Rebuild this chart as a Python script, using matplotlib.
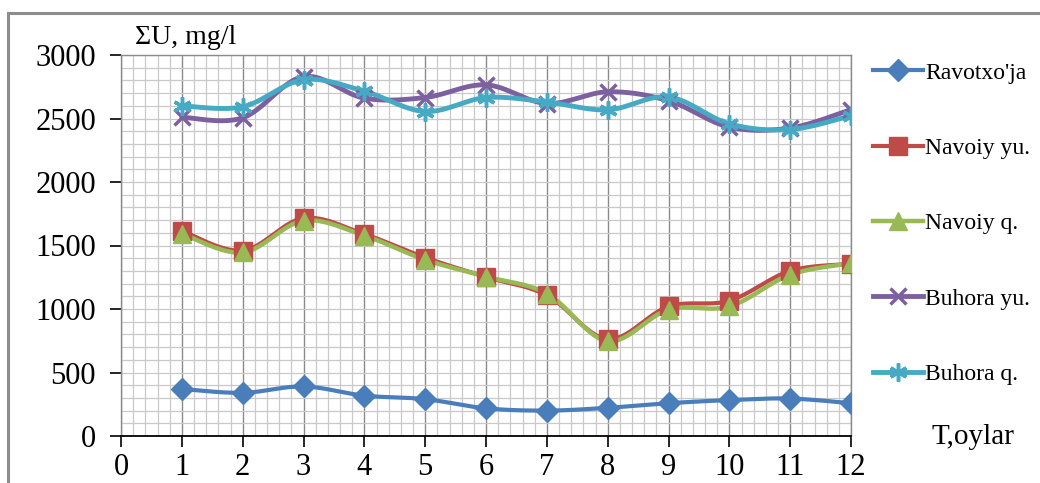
import numpy as np
import matplotlib
matplotlib.use("Agg")
import matplotlib.pyplot as plt
from matplotlib.patches import Rectangle
from matplotlib.ticker import MultipleLocator

months = [1, 2, 3, 4, 5, 6, 7, 8, 9, 10, 11, 12]
ravotxoja = [370, 340, 390, 318, 290, 218, 200, 222, 258, 283, 295, 258]
navoiy_yu = [1615, 1460, 1715, 1590, 1405, 1252, 1108, 763, 1020, 1065, 1300, 1355]
navoiy_q = [1593, 1445, 1695, 1578, 1388, 1255, 1122, 747, 995, 1020, 1270, 1360]
buhora_yu = [2510, 2505, 2830, 2660, 2665, 2765, 2618, 2710, 2640, 2432, 2425, 2570]
buhora_q = [2600, 2592, 2805, 2715, 2555, 2665, 2630, 2568, 2670, 2458, 2413, 2522]

labels = ["Ravotxo'ja", "Navoiy yu.", "Navoiy q.", "Buhora yu.", "Buhora q."]
colors = ["#4A7EBB", "#BE4B48", "#98B954", "#7D60A0", "#46AAC5"]
markers = ["D", "s", "^", "x", (6, 2, 0)]
msizes = [11.5, 12.5, 12.5, 12, 13]
lws = [3, 3, 3.2, 3.5, 3.5]
series = [ravotxoja, navoiy_yu, navoiy_q, buhora_yu, buhora_q]

plt.rcParams['font.family'] = ['Liberation Serif', 'DejaVu Serif']


def smooth(x, y, n=30):
    x = np.asarray(x, float)
    y = np.asarray(y, float)
    xs, ys = [], []
    m = len(x)
    for i in range(m - 1):
        p0 = np.array([x[i], y[i]])
        p3 = np.array([x[i + 1], y[i + 1]])
        pm = np.array([x[i - 1], y[i - 1]]) if i > 0 else p0
        pp = np.array([x[i + 2], y[i + 2]]) if i + 2 < m else p3
        c1 = p0 + (p3 - pm) / 6.0
        c2 = p3 - (pp - p0) / 6.0
        t = np.linspace(0, 1, n)[:, None]
        pts = (1 - t) ** 3 * p0 + 3 * (1 - t) ** 2 * t * c1 + 3 * (1 - t) * t ** 2 * c2 + t ** 3 * p3
        xs.append(pts[:, 0])
        ys.append(pts[:, 1])
    return np.concatenate(xs), np.concatenate(ys)


fig = plt.figure(figsize=(10.4, 4.83), dpi=100)
ax = fig.add_axes([121 / 1040, 47 / 483, 730 / 1040, 381 / 483])

# frame
fig.patches.append(Rectangle((8 / 1040, -0.1), 1.2, (483 - 13) / 483 + 0.1,
                             transform=fig.transFigure, fill=False,
                             edgecolor="#8c8c8c", lw=2.2))

ax.set_xlim(0, 12)
ax.set_ylim(0, 3000)
ax.xaxis.set_minor_locator(MultipleLocator(0.2))
ax.yaxis.set_minor_locator(MultipleLocator(100))
ax.set_xticks(range(0, 13))
ax.set_yticks(range(0, 3001, 500))
ax.grid(which="minor", color="#c9c9c9", lw=0.9)
ax.grid(which="major", axis="y", color="#c9c9c9", lw=0.9)
ax.grid(which="major", axis="x", color="#8a8a8a", lw=1.0)
ax.tick_params(which="minor", length=0)
ax.tick_params(which="major", direction="out", length=8, width=1.2, color="black",
               labelsize=22)
ax.tick_params(axis="y", pad=10)
ax.tick_params(axis="x", pad=4)
for s in ["top", "right", "left"]:
    ax.spines[s].set_color("#8a8a8a")
    ax.spines[s].set_linewidth(1.0)
ax.spines["bottom"].set_color("black")
ax.spines["bottom"].set_linewidth(1.3)
ax.set_axisbelow(True)

for ys, lab, c, mk, ms, lw in zip(series, labels, colors, markers, msizes, lws):
    sx, sy = smooth(months, ys)
    ax.plot(sx, sy, color=c, lw=lw, solid_capstyle="round", zorder=3)
    kw = dict(markeredgewidth=2.5) if mk in ("x",) or isinstance(mk, tuple) else dict(markeredgewidth=1)
    ax.plot(months, ys, ls="none", marker=mk, ms=ms, color=c, markeredgecolor=c,
            zorder=4, **kw)
    ax.plot([], [], color=c, lw=lw, marker=mk, ms=ms, markeredgecolor=c, label=lab, **kw)

ax.legend(loc="upper left", bbox_to_anchor=(873 / 1040, 1 - 62 / 483),
          bbox_transform=fig.transFigure, frameon=False, fontsize=17,
          handlelength=2.1, handletextpad=0.1, labelspacing=2.28, borderaxespad=0,
          borderpad=0)

fig.text(135 / 1040, 1 - 37 / 483, "ΣU, mg/l", fontsize=20, va="center", ha="left")
fig.text(931 / 1040, 1 - 437 / 483, "T,oylar", fontsize=21, va="center", ha="left")

fig.savefig("out.png", dpi=100)
